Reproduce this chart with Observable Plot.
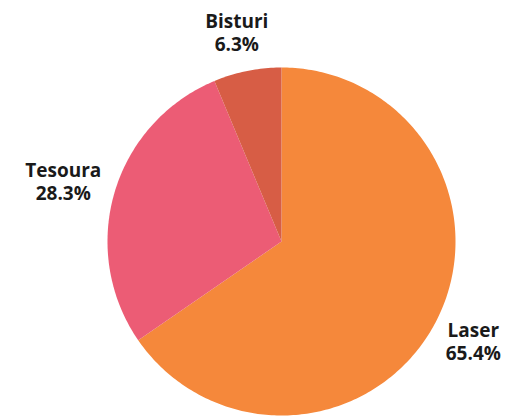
<!DOCTYPE html>
<html><head><meta charset="utf-8">
<script src="https://cdn.jsdelivr.net/npm/d3@7"></script>
<script src="https://cdn.jsdelivr.net/npm/@observablehq/plot@0.6"></script>
<style>body{margin:0;background:#fff;font-family:"Open Sans",sans-serif}</style>
</head><body><div id="chart"></div>
<script>
const categories = ["Laser", "Tesoura", "Bisturi"];
const values = [65.4, 28.3, 6.3];
const colors = ["#F5883B", "#EC5C75", "#D75D45"];

const total = d3.sum(values);
const slices = [];
const labels = [];
let acc = 0;
categories.forEach((c, i) => {
  const a0 = acc / total * 2 * Math.PI;
  acc += values[i];
  const a1 = acc / total * 2 * Math.PI;
  const n = Math.max(4, Math.ceil((a1 - a0) / (2 * Math.PI) * 400));
  slices.push({name: c, x: 0, y: 0});
  for (let k = 0; k <= n; k++) {
    const a = a0 + (a1 - a0) * k / n;
    slices.push({name: c, x: Math.sin(a), y: Math.cos(a)});
  }
  const m = (a0 + a1) / 2;
  const hw = (c.length * 10.8 / 2) / 174, hh = 24 / 174;
  labels.push({
    name: c,
    text: `${c}\n${values[i].toFixed(1)}%`,
    x: 1.09 * Math.sin(m) + Math.sin(m) * hw,
    y: 1.09 * Math.cos(m) + Math.cos(m) * hh
  });
});

const chart = Plot.plot({
  width: 505,
  height: 418,
  marginLeft: 107,
  marginRight: 50,
  marginTop: 67,
  marginBottom: 3,
  x: {domain: [-1, 1], axis: null},
  y: {domain: [-1, 1], axis: null},
  color: {domain: categories, range: colors},
  marks: [
    Plot.line(slices, {x: "x", y: "y", z: "name", fill: "name", stroke: "none", curve: "linear-closed", clip: false}),
    Plot.text(labels, {x: "x", y: "y", text: "text", fontSize: 19, fontWeight: "bold", fill: "#1a1a1a", lineHeight: 1.2, fontFamily: "Open Sans", clip: false})
  ]
});
chart.style.overflow = "visible";
document.getElementById("chart").append(chart);
</script></body></html>
